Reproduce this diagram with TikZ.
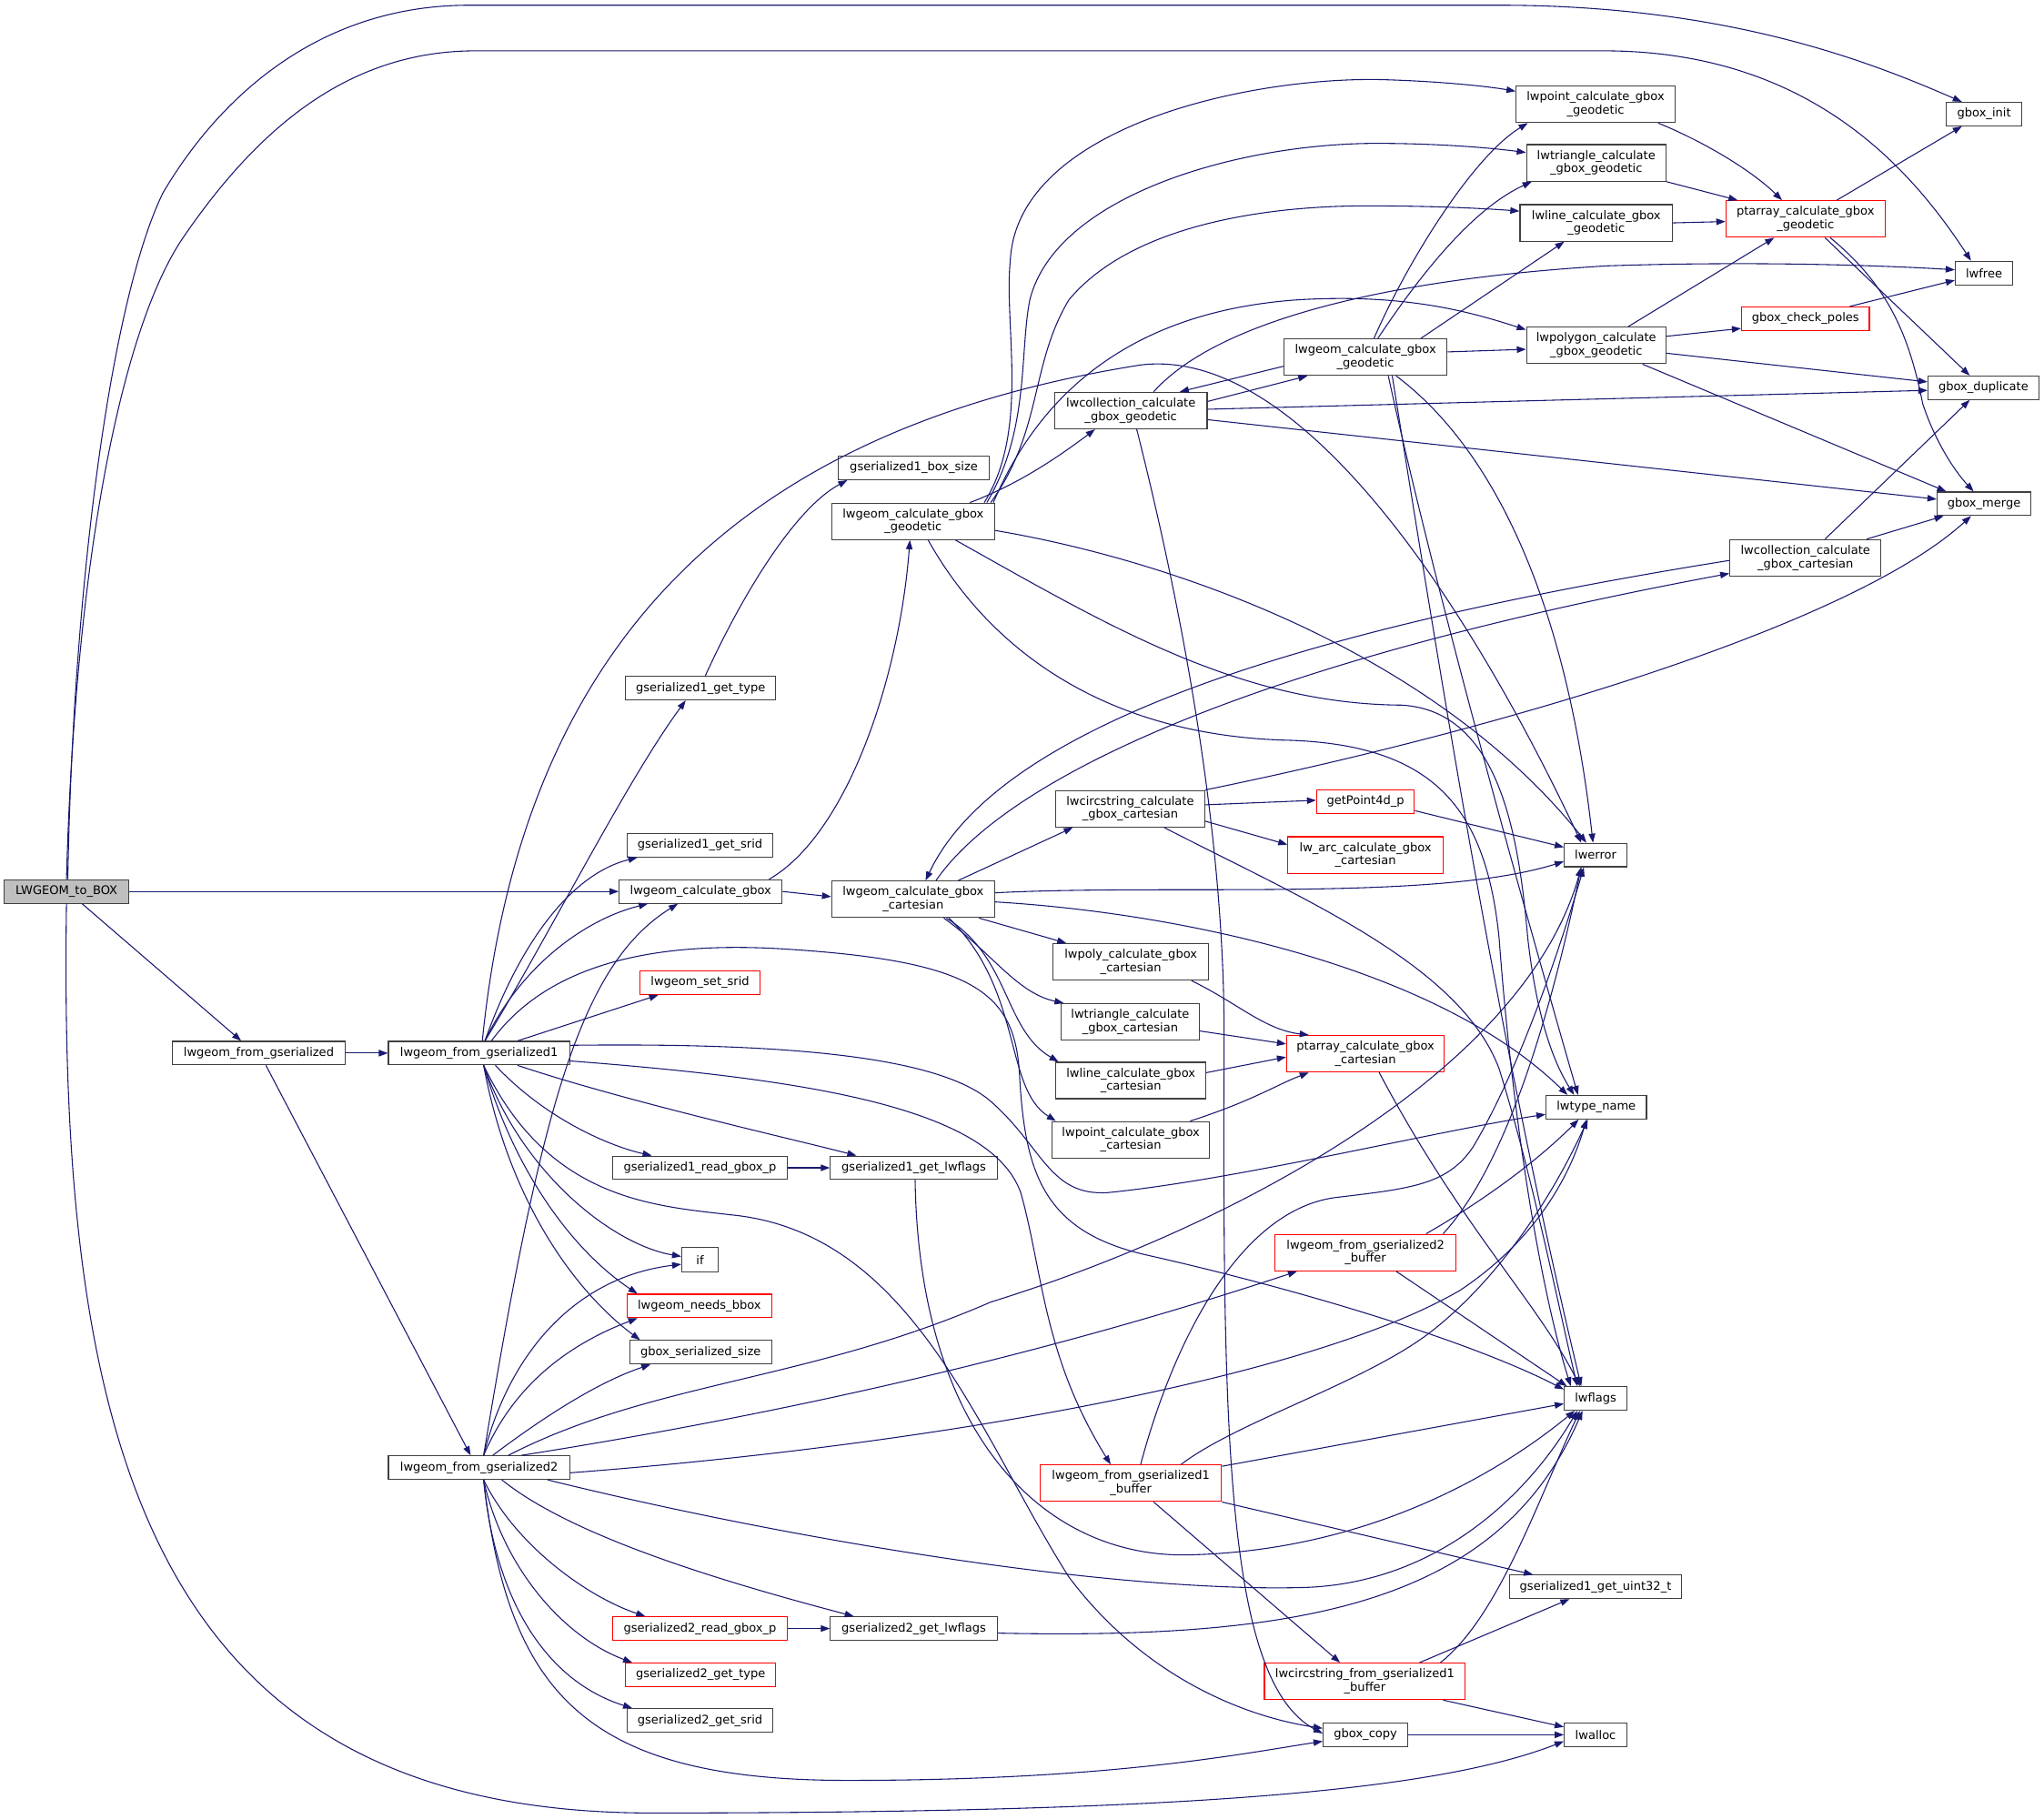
\documentclass[tikz,border=0pt]{standalone}
\usepackage{fontspec}
\newfontfamily\dvs{DejaVu Sans}
\usetikzlibrary{arrows.meta}
\definecolor{edgec}{HTML}{191970}
\definecolor{boxc}{HTML}{404040}
\definecolor{redc}{HTML}{FF0000}
\definecolor{grayfill}{HTML}{BFBFBF}
\tikzset{
  bx/.style={draw=boxc, fill=white, line width=0.8pt, inner sep=0pt, align=center, font={\dvs\fontsize{9.1}{10.2}\selectfont}},
  rbx/.style={bx, draw=redc},
  e/.style={draw=edgec, line width=0.75pt, -{Triangle[length=7pt,width=5pt]}}
}
\begin{document}
\begin{tikzpicture}[x=1pt,y=-1pt]
\useasboundingbox (0,0) rectangle (1568,1395);
% nodes
\node[bx, fill=grayfill, minimum width=96pt, minimum height=18pt] (to) at (51,684) {LWGEOM\_to\_BOX};
\node[bx, minimum width=133pt, minimum height=18pt] (lfg) at (198.5,808) {lwgeom\_from\_gserialized};
\node[bx, minimum width=139pt, minimum height=18pt] (lfg1) at (367.5,808) {lwgeom\_from\_gserialized1};
\node[bx, minimum width=139pt, minimum height=18pt] (lfg2) at (367.5,1126) {lwgeom\_from\_gserialized2};
\node[bx, minimum width=115pt, minimum height=18pt] (g1type) at (537.5,528) {gserialized1\_get\_type};
\node[bx, minimum width=112pt, minimum height=18pt] (g1srid) at (537,648.5) {gserialized1\_get\_srid};
\node[bx, minimum width=125pt, minimum height=18pt] (lcg) at (537.5,684) {lwgeom\_calculate\_gbox};
\node[rbx, minimum width=92pt, minimum height=18pt] (setsrid) at (537,754) {lwgeom\_set\_srid};
\node[bx, minimum width=134pt, minimum height=18pt] (g1read) at (537,896) {gserialized1\_read\_gbox\_p};
\node[bx, minimum width=128pt, minimum height=18pt] (g1lwf) at (701,896) {gserialized1\_get\_lwflags};
\node[bx, minimum width=28pt, minimum height=19pt] (if) at (537,966.5) {if};
\node[rbx, minimum width=111pt, minimum height=18pt] (needs) at (536.5,1002) {lwgeom\_needs\_bbox};
\node[bx, minimum width=109pt, minimum height=18pt] (gss) at (537.5,1037.5) {gbox\_serialized\_size};
\node[rbx, minimum width=134pt, minimum height=18pt] (g2read) at (537,1249.5) {gserialized2\_read\_gbox\_p};
\node[bx, minimum width=128pt, minimum height=18pt] (g2lwf) at (701,1249.5) {gserialized2\_get\_lwflags};
\node[rbx, minimum width=115pt, minimum height=18pt] (g2type) at (537.5,1285) {gserialized2\_get\_type};
\node[bx, minimum width=112pt, minimum height=18pt] (g2srid) at (537,1320) {gserialized2\_get\_srid};
\node[bx, minimum width=116pt, minimum height=18pt] (g1bs) at (701,359) {gserialized1\_box\_size};
\node[bx, minimum width=125pt, minimum height=28pt] (geo1) at (700.5,400) {lwgeom\_calculate\_gbox\\\_geodetic};
\node[bx, minimum width=125pt, minimum height=28pt] (cart) at (700.5,690) {lwgeom\_calculate\_gbox\\\_cartesian};
\node[bx, minimum width=117pt, minimum height=28pt] (colgeo) at (867.5,315) {lwcollection\_calculate\\\_gbox\_geodetic};
\node[bx, minimum width=125pt, minimum height=28pt] (geo2) at (1047.5,274) {lwgeom\_calculate\_gbox\\\_geodetic};
\node[bx, minimum width=122pt, minimum height=28pt] (ptgeo) at (1224,80) {lwpoint\_calculate\_gbox\\\_geodetic};
\node[bx, minimum width=107pt, minimum height=28pt] (trigeo) at (1224.5,125) {lwtriangle\_calculate\\\_gbox\_geodetic};
\node[bx, minimum width=117pt, minimum height=28pt] (linegeo) at (1224.5,171) {lwline\_calculate\_gbox\\\_geodetic};
\node[bx, minimum width=107pt, minimum height=28pt] (polygeo) at (1224.5,265) {lwpolygon\_calculate\\\_gbox\_geodetic};
\node[rbx, minimum width=122pt, minimum height=28pt] (ptarrgeo) at (1385,168) {ptarray\_calculate\_gbox\\\_geodetic};
\node[bx, minimum width=58pt, minimum height=18pt] (gboxinit) at (1522,87.5) {gbox\_init};
\node[bx, minimum width=44pt, minimum height=18pt] (lwfree) at (1522,209.5) {lwfree};
\node[rbx, minimum width=98pt, minimum height=18pt] (poles) at (1385,244.5) {gbox\_check\_poles};
\node[bx, minimum width=85pt, minimum height=18pt] (gdup) at (1521.5,297.5) {gbox\_duplicate};
\node[bx, minimum width=72pt, minimum height=18pt] (gmerge) at (1522,386.5) {gbox\_merge};
\node[bx, minimum width=116pt, minimum height=28pt] (colcart) at (1385,428) {lwcollection\_calculate\\\_gbox\_cartesian};
\node[bx, minimum width=114pt, minimum height=28pt] (circcart) at (867,620.5) {lwcircstring\_calculate\\\_gbox\_cartesian};
\node[rbx, minimum width=75pt, minimum height=18pt] (gp4d) at (1047.5,615) {getPoint4d\_p};
\node[rbx, minimum width=119pt, minimum height=28pt] (arc) at (1047.5,656) {lw\_arc\_calculate\_gbox\\\_cartesian};
\node[bx, minimum width=48pt, minimum height=18pt] (lwerror) at (1224,656) {lwerror};
\node[bx, minimum width=119pt, minimum height=28pt] (polycart) at (867.5,738) {lwpoly\_calculate\_gbox\\\_cartesian};
\node[bx, minimum width=106pt, minimum height=28pt] (tricart) at (867,784) {lwtriangle\_calculate\\\_gbox\_cartesian};
\node[bx, minimum width=115pt, minimum height=28pt] (linecart) at (867.5,829) {lwline\_calculate\_gbox\\\_cartesian};
\node[bx, minimum width=121pt, minimum height=28pt] (pointcart) at (867.5,874.5) {lwpoint\_calculate\_gbox\\\_cartesian};
\node[rbx, minimum width=121pt, minimum height=28pt] (ptarrcart) at (1047.5,808.5) {ptarray\_calculate\_gbox\\\_cartesian};
\node[bx, minimum width=77pt, minimum height=18pt] (lwtype) at (1224.5,849.5) {lwtype\_name};
\node[rbx, minimum width=139pt, minimum height=28pt] (g2buf) at (1047.5,961) {lwgeom\_from\_gserialized2\\\_buffer};
\node[bx, minimum width=48pt, minimum height=18pt] (lwflags) at (1224,1073) {lwflags};
\node[rbx, minimum width=139pt, minimum height=28pt] (g1buf) at (867.5,1138) {lwgeom\_from\_gserialized1\\\_buffer};
\node[bx, minimum width=132pt, minimum height=18pt] (uint32) at (1224,1217.5) {gserialized1\_get\_uint32\_t};
\node[rbx, minimum width=154pt, minimum height=28pt] (circbuf) at (1047,1290) {lwcircstring\_from\_gserialized1\\\_buffer};
\node[bx, minimum width=65pt, minimum height=18pt] (gboxcopy) at (1047.5,1331) {gbox\_copy};
\node[bx, minimum width=48pt, minimum height=18pt] (lwalloc) at (1224,1331) {lwalloc};

% edges from LWGEOM_to_BOX
\draw[e] ([xshift=1pt]to.north) .. controls (56,450) and (85,230) .. (125,148) .. controls (165,80) and (240,4) .. (360,4) -- (1150,4) .. controls (1330,4) and (1440,50) .. ([xshift=-17pt]gboxinit.north);
\draw[e] (to.north) .. controls (58,420) and (95,250) .. (140,183) .. controls (200,95) and (270,39) .. (365,39) -- (1230,39) .. controls (1380,39) and (1460,120) .. ([xshift=-10pt]lwfree.north);
\draw[e] (to.east) -- (lcg.west);
\draw[e] ([xshift=12pt]to.south) -- ([xshift=-13.5pt]lfg.north);
\draw[e] (to.south) .. controls (45,1100) and (110,1391) .. (500,1391) .. controls (900,1391) and (1100,1375) .. ([yshift=-5pt]lwalloc.west);

% lwgeom_from_gserialized
\draw[e] (lfg.east) -- (lfg1.west);
\draw[e] ([xshift=5.5pt]lfg.south) -- ([xshift=-6.5pt]lfg2.north);

% lwgeom_from_gserialized1
\draw[e] ([xshift=4.5pt]lfg1.north) .. controls (420,720) and (480,600) .. ([xshift=-11.5pt]g1type.south);
\draw[e] ([xshift=4.5pt]lfg1.north) .. controls (400,720) and (440,670) .. ([xshift=-48pt]g1srid.south);
\draw[e] ([xshift=4.5pt]lfg1.north) .. controls (400,740) and (450,705) .. ([xshift=-40.5pt]lcg.south);
\draw[e] ([xshift=2.5pt]lfg1.north) .. controls (400,500) and (560,330) .. (875,280) .. controls (1000,265) and (1130,470) .. ([xshift=-11pt]lwerror.north);
\draw[e] ([xshift=29.5pt]lfg1.north) -- ([xshift=-32pt]setsrid.south);
\draw[e] ([xshift=9.5pt]lfg1.north) .. controls (420,740) and (500,722) .. (600,728) .. controls (745,737) and (778,760) .. (782,823) .. controls (786,900) and (800,945) .. (880,963) .. controls (1000,990) and (1130,1030) .. ([yshift=7pt]lwflags.west);
\draw[e] ([yshift=6pt]lfg1.east) .. controls (600,800) and (720,810) .. (760,845) .. controls (800,880) and (805,918) .. (850,915) .. controls (950,905) and (1100,868) .. ([yshift=-5.5pt]lwtype.west);
\draw[e] ([yshift=-6pt]lfg1.east) .. controls (620,828) and (760,850) .. (783,915) .. controls (800,975) and (800,1040) .. ([xshift=-15.5pt]g1buf.north);
\draw[e] ([xshift=12.5pt]lfg1.south) .. controls (420,860) and (470,880) .. ([xshift=-37pt]g1read.north);
\draw[e] ([xshift=29.5pt]lfg1.south) .. controls (480,845) and (600,872) .. ([xshift=-44pt]g1lwf.north);
\draw[e] ([xshift=3.5pt]lfg1.south) .. controls (400,900) and (470,955) .. ([yshift=2.5pt]if.west);
\draw[e] ([xshift=3.5pt]lfg1.south) .. controls (395,900) and (440,960) .. ([xshift=-47.5pt]needs.north);
\draw[e] ([xshift=3.5pt]lfg1.south) .. controls (390,920) and (440,990) .. ([xshift=-46.5pt]gss.north);
\draw[e] ([xshift=3.5pt]lfg1.south) .. controls (420,920) and (500,925) .. (560,932) .. controls (700,945) and (750,1100) .. (820,1210) .. controls (880,1290) and (960,1318) .. ([yshift=5pt]gboxcopy.west);

% lwgeom_from_gserialized2
\draw[e] ([xshift=3.5pt]lfg2.north) .. controls (415,850) and (445,740) .. ([xshift=-17.5pt]lcg.south);
\draw[e] ([xshift=3.5pt]lfg2.north) .. controls (390,1040) and (440,980) .. ([yshift=-3.5pt]if.west);
\draw[e] ([xshift=3.5pt]lfg2.north) .. controls (395,1060) and (440,1030) .. ([xshift=-47.5pt]needs.south);
\draw[e] ([xshift=10.5pt]lfg2.north) .. controls (420,1085) and (460,1060) .. ([xshift=-38.5pt]gss.south);
\draw[e] ([xshift=22.5pt]lfg2.north) .. controls (500,1060) and (620,1060) .. (760,999) .. controls (950,940) and (1170,820) .. ([xshift=-11pt]lwerror.south);
\draw[e] ([xshift=32.5pt]lfg2.north) .. controls (600,1085) and (800,1040) .. ([xshift=-52.5pt]g2buf.south);
\draw[e] ([yshift=-4pt]lfg2.east) .. controls (700,1110) and (1000,1060) .. (1120,990) .. controls (1180,950) and (1205,900) .. ([xshift=-7.5pt]lwtype.south);
\draw[e] ([xshift=52.5pt]lfg2.south) .. controls (600,1180) and (850,1222) .. (1000,1218) .. controls (1100,1215) and (1170,1150) .. ([xshift=-14pt]lwflags.south);
\draw[e] ([xshift=17.5pt]lfg2.south) .. controls (440,1180) and (560,1215) .. ([xshift=-46pt]g2lwf.north);
\draw[e] ([xshift=3.5pt]lfg2.south) .. controls (395,1185) and (450,1225) .. ([xshift=-42pt]g2read.north);
\draw[e] ([xshift=3.5pt]lfg2.south) .. controls (385,1200) and (430,1255) .. ([xshift=-52.5pt]g2type.north);
\draw[e] ([xshift=3.5pt]lfg2.south) .. controls (380,1230) and (420,1290) .. ([xshift=-52pt]g2srid.north);
\draw[e] ([xshift=3.5pt]lfg2.south) .. controls (390,1300) and (450,1366) .. (650,1366) .. controls (850,1366) and (950,1346) .. ([yshift=-5pt]gboxcopy.west);

% misc left
\draw[e] (g1read.east) -- (g1lwf.west);
\draw[e] (g2read.east) -- (g2lwf.west);
\draw[e] ([xshift=3.5pt]g1type.north) .. controls (570,455) and (610,390) .. ([xshift=-51pt]g1bs.south);
\draw[e] ([xshift=1pt]g1lwf.south) .. controls (705,1100) and (800,1195) .. (911,1193) .. controls (1050,1190) and (1150,1130) .. ([xshift=-16pt]lwflags.south);
\draw[e] ([yshift=-3.5pt]g2lwf.east) .. controls (1000,1258) and (1150,1230) .. ([xshift=-10pt]lwflags.south);
\draw[e] ([xshift=52.5pt]lcg.north) .. controls (650,640) and (690,520) .. ([xshift=-2.5pt]geo1.south);
\draw[e] (lcg.east) -- ([yshift=2pt]cart.west);

% geodetic #1
\draw[e] ([xshift=43.5pt]geo1.north) .. controls (780,372) and (810,352) .. ([xshift=-27.5pt]colgeo.south);
\draw[e] ([xshift=54.5pt]geo1.north) .. controls (790,330) and (770,250) .. (775,200) .. controls (780,100) and (950,60) .. (1056,61) .. controls (1100,62) and (1140,66) .. ([yshift=10pt]ptgeo.west);
\draw[e] ([xshift=56.5pt]geo1.north) .. controls (790,330) and (782,270) .. (790,230) .. controls (810,150) and (950,110) .. (1056,110) .. controls (1100,110) and (1140,113) .. ([yshift=8pt]trigeo.west);
\draw[e] ([xshift=59.5pt]geo1.north) .. controls (800,330) and (790,280) .. (820,230) .. controls (870,170) and (980,157) .. (1056,158) .. controls (1100,158) and (1140,160) .. ([yshift=9pt]linegeo.west);
\draw[e] ([xshift=61.5pt]geo1.north) .. controls (790,320) and (850,240) .. (996,230) .. controls (1080,225) and (1130,240) .. ([yshift=12pt]polygeo.west);
\draw[e] ([yshift=-7pt]geo1.east) .. controls (900,430) and (1100,500) .. ([xshift=-7pt]lwerror.north);
\draw[e] ([xshift=32.5pt]geo1.south) .. controls (850,480) and (950,540) .. (1075,541) .. controls (1150,545) and (1165,640) .. (1172,720) .. controls (1180,790) and (1195,820) .. ([xshift=-17pt]lwtype.north);
\draw[e] ([xshift=11.5pt]geo1.south) .. controls (760,500) and (850,565) .. (990,568) .. controls (1100,572) and (1140,620) .. (1150,720) .. controls (1162,880) and (1185,1000) .. ([xshift=-19pt]lwflags.north);

% geodetic #2 and collection
\draw[e] ([yshift=-7pt]geo2.west) -- ([xshift=37.5pt]colgeo.north);
\draw[e] ([yshift=7pt]colgeo.east) -- ([xshift=-44.5pt]geo2.south);
\draw[e] ([xshift=6.5pt]geo2.north) .. controls (1080,200) and (1130,120) .. ([xshift=-52pt]ptgeo.south);
\draw[e] ([xshift=9.5pt]geo2.north) .. controls (1090,210) and (1130,160) .. ([xshift=-49.5pt]trigeo.south);
\draw[e] ([xshift=42.5pt]geo2.north) -- ([xshift=-24.5pt]linegeo.south);
\draw[e] ([yshift=4pt]geo2.east) -- ([yshift=-3pt]polygeo.west);
\draw[e] ([xshift=17.5pt]geo2.south) .. controls (1100,450) and (1170,700) .. ([xshift=-14pt]lwtype.north);
\draw[e] ([xshift=20.5pt]geo2.south) .. controls (1110,550) and (1150,800) .. ([xshift=-11pt]lwflags.north);
\draw[e] ([xshift=23.5pt]geo2.south) .. controls (1140,340) and (1200,450) .. ([xshift=-2pt]lwerror.north);
\draw[e] ([xshift=17.5pt]colgeo.north) .. controls (930,250) and (1050,215) .. (1232,204) .. controls (1350,200) and (1450,204) .. ([yshift=2.5pt]lwfree.west);
\draw[e] ([yshift=1pt]colgeo.east) -- ([yshift=-2pt]gdup.west);
\draw[e] ([yshift=-7pt]colgeo.east) -- ([yshift=3.5pt]gmerge.west);
\draw[e] ([xshift=4.5pt]colgeo.south) .. controls (910,480) and (940,650) .. (939,800) .. controls (938,1100) and (940,1290) .. ([yshift=1pt]gboxcopy.west);

% geodetic leaves
\draw[e] ([xshift=48pt]ptgeo.south) .. controls (1310,110) and (1345,132) .. ([xshift=-18pt]ptarrgeo.north);
\draw[e] (trigeo.south east) -- ([xshift=-52pt]ptarrgeo.north);
\draw[e] (linegeo.east) -- ([yshift=-2pt]ptarrgeo.west);
\draw[e] ([xshift=24.5pt]polygeo.north) -- ([xshift=-24pt]ptarrgeo.south);
\draw[e] ([yshift=7pt]polygeo.east) -- ([yshift=-7.5pt]poles.west);
\draw[e] ([yshift=-6pt]polygeo.east) -- ([yshift=4.5pt]gdup.west);
\draw[e] ([xshift=35.5pt]polygeo.south) -- ([xshift=-29pt]gmerge.north);
\draw[e] ([xshift=34pt]poles.north) -- ([yshift=-5.5pt]lwfree.west);
\draw[e] ([xshift=24pt]ptarrgeo.north) -- ([xshift=-17pt]gboxinit.south);
\draw[e] ([xshift=15pt]ptarrgeo.south) -- ([xshift=-10.5pt]gdup.north);
\draw[e] ([xshift=19pt]ptarrgeo.south) .. controls (1450,220) and (1465,260) .. (1475,310) .. controls (1485,340) and (1500,362) .. ([xshift=-8pt]gmerge.north);
\draw[e] ([xshift=15pt]colcart.north) -- ([xshift=-10.5pt]gdup.south);
\draw[e] ([xshift=47pt]colcart.north) -- ([xshift=-31pt]gmerge.south);

% cartesian
\draw[e] ([xshift=17.5pt]cart.north) .. controls (770,600) and (950,510) .. ([yshift=-12pt]colcart.west);
\draw[e] ([yshift=-2pt]colcart.west) .. controls (950,490) and (760,570) .. ([xshift=9.5pt]cart.north);
\draw[e] ([xshift=34.5pt]cart.north) -- ([xshift=-44pt]circcart.south);
\draw[e] ([yshift=5pt]cart.east) .. controls (900,678) and (1100,692) .. ([yshift=-5pt]lwerror.west);
\draw[e] ([yshift=-2pt]cart.east) .. controls (900,700) and (1100,740) .. ([xshift=-22pt]lwtype.north);
\draw[e] ([xshift=50.5pt]cart.south) -- ([xshift=-49.5pt]polycart.north);
\draw[e] ([xshift=23.5pt]cart.south) .. controls (760,730) and (780,762) .. ([xshift=-51pt]tricart.north);
\draw[e] ([xshift=25.5pt]cart.south) .. controls (775,735) and (770,790) .. ([xshift=-55.5pt]linecart.north);
\draw[e] ([xshift=27.5pt]cart.south) .. controls (785,760) and (770,835) .. ([xshift=-57.5pt]pointcart.north);
\draw[e] ([yshift=3pt]circcart.east) -- ([yshift=1pt]gp4d.west);
\draw[e] ([yshift=-9.5pt]circcart.east) -- ([yshift=8pt]arc.west);
\draw[e] (circcart.north east) .. controls (1150,560) and (1420,480) .. ([xshift=-10pt]gmerge.south);
\draw[e] ([xshift=26pt]circcart.south) .. controls (1000,690) and (1120,740) .. (1150,820) .. controls (1175,900) and (1195,1000) .. ([xshift=-14pt]lwflags.north);
\draw[e] ([yshift=-7pt]gp4d.east) -- ([yshift=6pt]lwerror.west);
\draw[e] ([xshift=46.5pt]polycart.south) .. controls (950,770) and (970,790) .. ([xshift=-43.5pt]ptarrcart.north);
\draw[e] ([yshift=-7pt]tricart.east) -- ([yshift=7.5pt]ptarrcart.west);
\draw[e] ([yshift=6pt]linecart.east) -- ([yshift=-2.5pt]ptarrcart.west);
\draw[e] ([xshift=45.5pt]pointcart.north) .. controls (960,845) and (980,832) .. ([xshift=-43.5pt]ptarrcart.south);
\draw[e] ([xshift=10.5pt]ptarrcart.south) .. controls (1120,940) and (1180,1000) .. ([xshift=-12pt]lwflags.north);

% buffers
\draw[e] ([xshift=59.5pt]g2buf.north) .. controls (1150,900) and (1185,800) .. ([xshift=-11pt]lwerror.south);
\draw[e] ([xshift=46.5pt]g2buf.north) .. controls (1140,920) and (1180,890) .. ([xshift=-13.5pt]lwtype.south);
\draw[e] ([xshift=23.5pt]g2buf.south) -- ([xshift=-22pt]lwflags.north);
\draw[e] ([xshift=7.5pt]g1buf.north) .. controls (900,1030) and (950,930) .. (1023,919) .. controls (1080,912) and (1110,910) .. (1130,880) .. controls (1160,830) and (1190,750) .. ([xshift=-9pt]lwerror.south);
\draw[e] ([xshift=38.5pt]g1buf.north) .. controls (950,1090) and (1050,1060) .. (1100,1020) .. controls (1150,980) and (1190,920) .. ([xshift=-6.5pt]lwtype.south);
\draw[e] ([yshift=13pt]g1buf.east) -- ([yshift=-4pt]lwflags.west);
\draw[e] (g1buf.south east) -- ([xshift=-48pt]uint32.north);
\draw[e] ([xshift=17.5pt]g1buf.south) -- ([xshift=-19pt]circbuf.north);
\draw[e] ([xshift=42pt]circbuf.north) -- ([xshift=-20pt]uint32.south);
\draw[e] ([xshift=58pt]circbuf.north) .. controls (1150,1240) and (1180,1150) .. ([xshift=-12pt]lwflags.south);
\draw[e] ([xshift=60pt]circbuf.south) -- ([yshift=6pt]lwalloc.west);
\draw[e] (gboxcopy.east) -- (lwalloc.west);
\end{tikzpicture}
\end{document}
